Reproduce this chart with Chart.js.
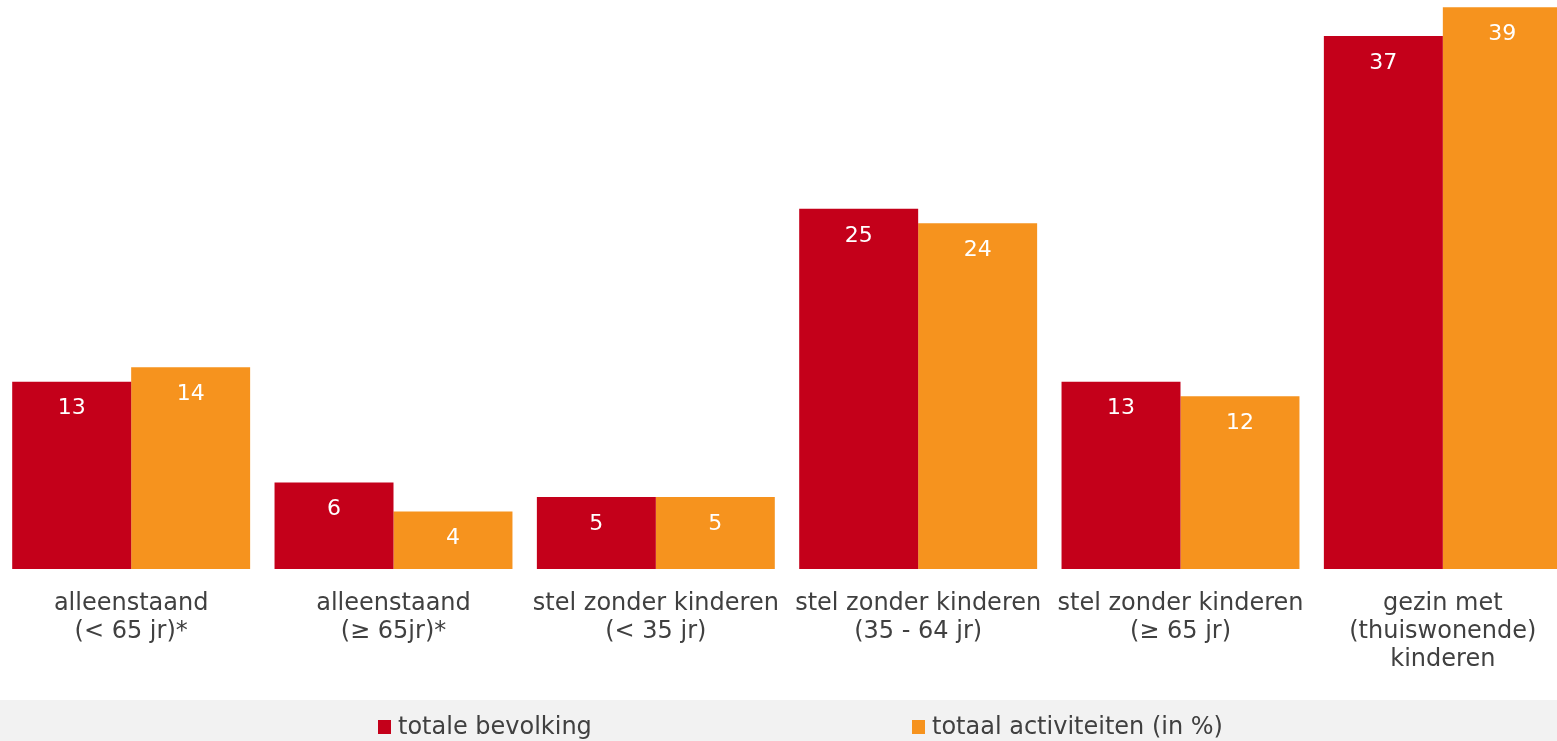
<!DOCTYPE html>
<html>
<head>
<meta charset="utf-8">
<script src="https://cdn.jsdelivr.net/npm/chart.js@4"></script>
<style>
  html, body { margin: 0; padding: 0; overflow: hidden; background: #ffffff; }
  #wrap { width: 1574px; height: 760px; }
</style>
</head>
<body>
<div id="wrap"><canvas id="c" width="1574" height="760"></canvas></div>
<script>
const categories = [
  ["alleenstaand", "(< 65 jr)*"],
  ["alleenstaand", "(\u2265 65jr)*"],
  ["stel zonder kinderen", "(< 35 jr)"],
  ["stel zonder kinderen", "(35 - 64 jr)"],
  ["stel zonder kinderen", "(\u2265 65 jr)"],
  ["gezin met", "(thuiswonende)", "kinderen"]
];
const seriesNames = ["totale bevolking", "totaal activiteiten (in %)"];
const totaleBevolking = [13, 6, 5, 25, 13, 37];
const totaalActiviteiten = [14, 4, 5, 24, 12, 39];
const colors = ["#C4001A", "#F6931E"];

const FONT = "'DejaVu Sans', Verdana, sans-serif";

const valueLabels = {
  id: 'valueLabels',
  afterDatasetsDraw(chart) {
    const ctx = chart.ctx;
    ctx.save();
    ctx.fillStyle = '#ffffff';
    ctx.font = '22px ' + FONT;
    ctx.textAlign = 'center';
    ctx.textBaseline = 'middle';
    chart.data.datasets.forEach((ds, di) => {
      const meta = chart.getDatasetMeta(di);
      meta.data.forEach((bar, i) => {
        ctx.fillText(String(ds.data[i]), bar.x, bar.y + 27);
      });
    });
    ctx.restore();
  }
};

const bandLegend = {
  id: 'bandLegend',
  afterDraw(chart) {
    const ctx = chart.ctx;
    const top = chart.height - 60;
    ctx.save();
    ctx.fillStyle = '#F2F2F2';
    ctx.fillRect(0, top, chart.width, chart.height - top);
    const xs = [378, 912];
    ctx.font = '24px ' + FONT;
    ctx.textBaseline = 'middle';
    ctx.textAlign = 'left';
    chart.data.datasets.forEach((ds, i) => {
      ctx.fillStyle = ds.backgroundColor;
      ctx.fillRect(xs[i], top + 20, 13, 14);
      ctx.fillStyle = '#404040';
      ctx.fillText(ds.label, xs[i] + 20, top + 28);
    });
    ctx.restore();
  }
};

new Chart(document.getElementById('c'), {
  type: 'bar',
  data: {
    labels: categories,
    datasets: [
      { label: seriesNames[0], data: totaleBevolking, backgroundColor: colors[0] },
      { label: seriesNames[1], data: totaalActiviteiten, backgroundColor: colors[1] }
    ]
  },
  options: {
    responsive: false,
    devicePixelRatio: 1,
    animation: false,
    layout: { padding: { top: 0, bottom: 60, left: 0, right: 0 } },
    datasets: { bar: { categoryPercentage: 0.907, barPercentage: 1.0, borderWidth: 0 } },
    plugins: {
      legend: { display: false },
      tooltip: { enabled: false }
    },
    scales: {
      x: {
        grid: { display: false, drawTicks: false },
        border: { display: false },
        ticks: {
          color: '#404040',
          font: { family: FONT, size: 24, lineHeight: 1.167 },
          padding: 21,
          maxRotation: 0,
          autoSkip: false
        },
        afterFit(scale) { scale.height = 131; }
      },
      y: {
        display: false,
        min: 0,
        max: 39.5
      }
    }
  },
  plugins: [valueLabels, bandLegend]
});
</script>
</body>
</html>
